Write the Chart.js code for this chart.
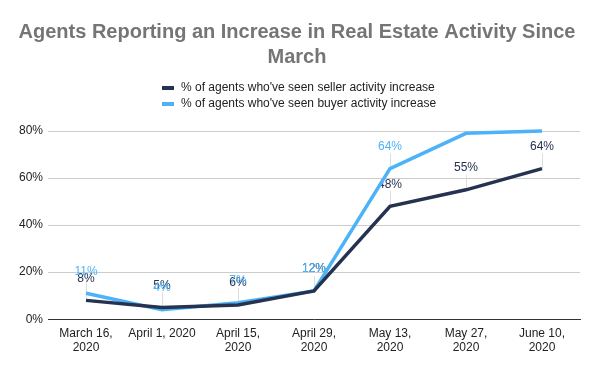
<!DOCTYPE html>
<html>
<head>
<meta charset="utf-8">
<script src="https://cdn.jsdelivr.net/npm/chart.js@4"></script>
<style>
  html, body { margin: 0; padding: 0; background: #fff; }
  #wrap { width: 600px; height: 371px; position: relative; }
</style>
</head>
<body>
<div id="wrap"><canvas id="agents"></canvas></div>
<script>
// Data
const categories = [
    ['March 16,', '2020'], 'April 1, 2020', ['April 15,', '2020'], ['April 29,', '2020'],
    ['May 13,', '2020'], ['May 27,', '2020'], ['June 10,', '2020']
];
const sellerValues = [8, 5, 6, 12, 48, 55, 64];
const buyerValues = [11, 4, 7, 12, 64, 79, 80];
// which points get a value label (Sheets hid the top two buyer labels)
const sellerShowLabel = [true, true, true, true, true, true, true];
const buyerShowLabel = [true, true, true, true, true, false, false];
const yTicks = [0, 20, 40, 60, 80];

const FONT = "'Liberation Sans', Arial, sans-serif";
const SELLER = '#253250';
const BUYER = '#4db3f9';

const legendItems = [
    { text: "% of agents who've seen seller activity increase", color: SELLER },
    { text: "% of agents who've seen buyer activity increase", color: BUYER }
];

// Two-row legend drawn by hand (Chart.js would put both on one row)
const stackedLegend = {
    id: 'stackedLegend',
    afterDraw(chart) {
        const ctx = chart.ctx;
        ctx.save();
        ctx.font = '12px ' + FONT;
        ctx.textBaseline = 'middle';
        ctx.textAlign = 'left';
        legendItems.forEach((item, i) => {
            const y = 88 + i * 16;
            ctx.fillStyle = item.color;
            ctx.fillRect(162, y - 2, 12, 4);
            ctx.fillStyle = '#222';
            ctx.fillText(item.text, 181, y);
        });
        ctx.restore();
    }
};

// Value labels with thin leader lines, drawn under the lines like the Sheets export
const valueLabels = {
    id: 'valueLabels',
    beforeDatasetsDraw(chart) {
        const ctx = chart.ctx;
        ctx.save();
        ctx.strokeStyle = '#dddddd';
        ctx.lineWidth = 1;
        chart.data.datasets.forEach((ds, i) => {
            const meta = chart.getDatasetMeta(i);
            meta.data.forEach((pt, j) => {
                if (!ds.showLabel[j]) return;
                ctx.beginPath();
                ctx.moveTo(Math.round(pt.x) + 0.5, pt.y - 15);
                ctx.lineTo(Math.round(pt.x) + 0.5, pt.y);
                ctx.stroke();
            });
        });
        ctx.font = '12px ' + FONT;
        ctx.textAlign = 'center';
        ctx.textBaseline = 'middle';
        chart.data.datasets.forEach((ds, i) => {
            const meta = chart.getDatasetMeta(i);
            ctx.fillStyle = ds.borderColor;
            meta.data.forEach((pt, j) => {
                if (!ds.showLabel[j]) return;
                ctx.fillText(ds.data[j] + '%', pt.x, pt.y - 22);
            });
        });
        ctx.restore();
    }
};

new Chart(document.getElementById('agents'), {
    type: 'line',
    data: {
        labels: categories,
        datasets: [
            {
                label: legendItems[0].text,
                data: sellerValues,
                borderColor: SELLER,
                backgroundColor: SELLER,
                borderWidth: 3.5,
                pointRadius: 0,
                tension: 0,
                showLabel: sellerShowLabel
            },
            {
                label: legendItems[1].text,
                data: buyerValues,
                borderColor: BUYER,
                backgroundColor: BUYER,
                borderWidth: 3.5,
                pointRadius: 0,
                tension: 0,
                showLabel: buyerShowLabel
            }
        ]
    },
    options: {
        responsive: true,
        maintainAspectRatio: false,
        animation: false,
        clip: false,
        layout: { padding: { left: 14, right: 20, top: 0, bottom: 9 } },
        plugins: {
            legend: { display: false },
            tooltip: { enabled: false },
            title: {
                display: true,
                text: ['Agents Reporting an Increase in Real Estate Activity Since', 'March'],
                color: '#757575',
                font: { family: FONT, size: 20, weight: 'bold', lineHeight: 1.25 },
                padding: { top: 20, bottom: 61 }
            }
        },
        scales: {
            x: {
                offset: true,
                grid: { display: false, drawTicks: false },
                border: { display: true, color: '#333', width: 1 },
                ticks: {
                    color: '#222',
                    font: { family: FONT, size: 12 },
                    padding: 7,
                    maxRotation: 0,
                    autoSkip: false
                }
            },
            y: {
                min: 0,
                max: 80,
                afterBuildTicks(axis) {
                    axis.ticks = yTicks.map(v => ({ value: v }));
                },
                grid: { color: '#cccccc', drawTicks: false },
                border: { display: false },
                ticks: {
                    color: '#222',
                    font: { family: FONT, size: 12 },
                    padding: 5,
                    callback: v => v + '%'
                }
            }
        }
    },
    plugins: [valueLabels, stackedLegend]
});
</script>
</body>
</html>
